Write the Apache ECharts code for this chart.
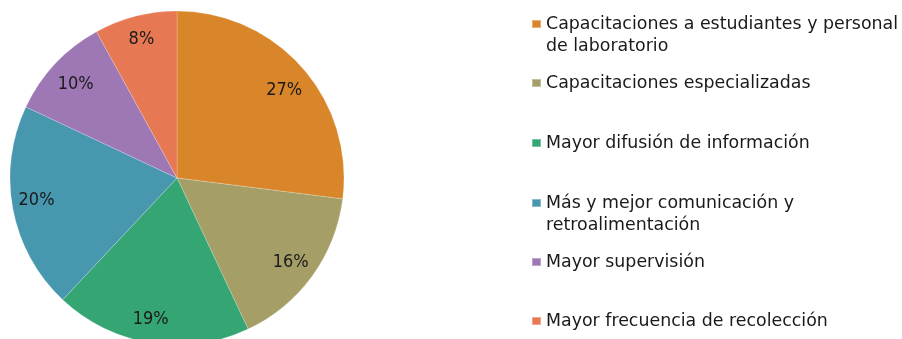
<!DOCTYPE html>
<html>
<head>
<meta charset="utf-8">
<script src="https://cdn.jsdelivr.net/npm/echarts@6/dist/echarts.min.js"></script>
<style>
  html, body { margin: 0; padding: 0; background: #ffffff; }
  #chart { width: 902px; height: 339px; }
</style>
</head>
<body>
<div id="chart"></div>
<script>
// Categories (legend names) and their shares, clockwise from 12 o'clock
const categories = [
  'Capacitaciones a estudiantes y personal\nde laboratorio',
  'Capacitaciones especializadas',
  'Mayor difusión de información',
  'Más y mejor comunicación y\nretroalimentación',
  'Mayor supervisión',
  'Mayor frecuencia de recolección'
];
const shares = [27, 16, 19, 20, 10, 8];
const sliceColors = ['#D9862B', '#A59E66', '#35A573', '#4798AE', '#9E77B5', '#E67854'];

const LEGEND_FONT = '"DejaVu Sans", sans-serif';
const LABEL_FONT = '"DejaVu Sans Condensed", "DejaVu Sans", sans-serif';
const LINE_H = 22;
const cx = 177, cy = 178, R = 167, labelR = 140;

// vertical centre of the first text line of each legend entry
const legendLineCenters = [24, 83, 143, 203, 262, 321];
// small nudges so the percentages sit clear of the slice edges
const labelNudges = [[0, 7], [-2, 0], [-4, 0], [0, -4], [3, 4], [0, 0]];

const chart = echarts.init(document.getElementById('chart'), null, { renderer: 'canvas' });

chart.setOption({
  animation: false,
  backgroundColor: '#ffffff',
  legend: categories.map((name, i) => {
    const twoLines = name.indexOf('\n') >= 0;
    return {
      data: [name],
      left: 531,
      top: legendLineCenters[i] - (twoLines ? LINE_H * 1.5 : LINE_H / 2),
      padding: 0,
      orient: 'vertical',
      icon: 'rect',
      itemWidth: 9,
      itemHeight: 8,
      itemGap: 0,
      selectedMode: false,
      // a blank leading line keeps the square level with the first line of a wrapped name
      formatter: n => (n.indexOf('\n') >= 0 ? '\u200b\n' + n : n),
      textStyle: {
        fontFamily: LEGEND_FONT,
        fontSize: 17.4,
        color: '#1a1a1a',
        lineHeight: LINE_H
      }
    };
  }),
  series: [
    {
      // the slices
      type: 'pie',
      center: [cx, cy],
      radius: [0, R],
      startAngle: 90,
      clockwise: true,
      silent: true,
      label: { show: false },
      labelLine: { show: false },
      itemStyle: { borderColor: 'rgba(255,255,255,0.35)', borderWidth: 0.6 },
      data: categories.map((name, i) => ({
        name: name,
        value: shares[i],
        itemStyle: { color: sliceColors[i] }
      }))
    },
    {
      // percentage labels, placed near the rim
      type: 'pie',
      center: [cx, cy],
      radius: [0, labelR * 2],
      startAngle: 90,
      clockwise: true,
      silent: true,
      legendHoverLink: false,
      itemStyle: { color: 'rgba(0,0,0,0)' },
      label: {
        show: true,
        position: 'inside',
        formatter: '{c}%',
        fontFamily: LABEL_FONT,
        fontSize: 18,
        color: '#1a1a1a'
      },
      labelLine: { show: false },
      data: categories.map((name, i) => ({
        name: name,
        value: shares[i],
        label: { offset: labelNudges[i] }
      }))
    }
  ]
});
</script>
</body>
</html>
